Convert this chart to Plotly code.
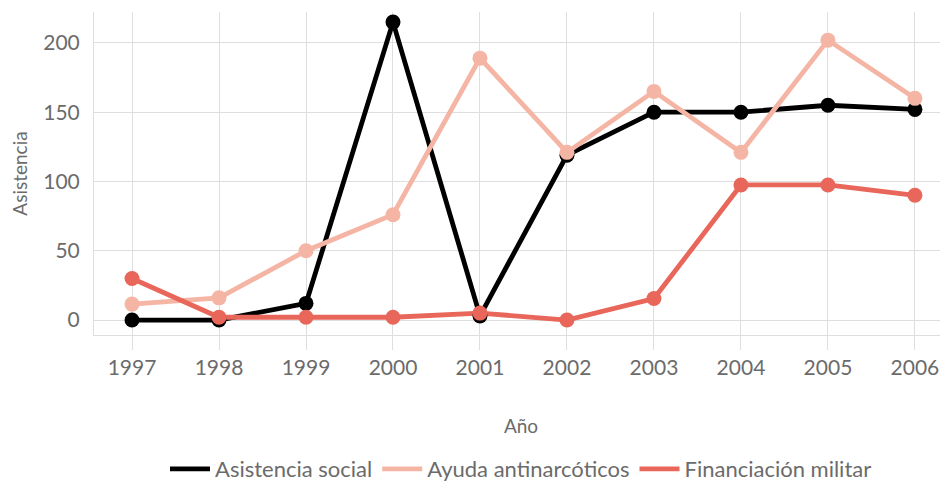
import plotly.graph_objects as go

years = [1997, 1998, 1999, 2000, 2001, 2002, 2003, 2004, 2005, 2006]
social = [0, 0, 12, 215, 3, 119, 150, 150, 155, 152]
antinarc = [11.5, 16, 50, 76, 189, 121, 165, 121, 202, 160]
militar = [30, 2, 2, 2, 5, 0, 15.5, 97.5, 97.5, 90]

names = ['Asistencia social', 'Ayuda antinarcóticos', 'Financiación militar']
colors = ['#000000', '#f5b5a5', '#e8665a']
series = [social, antinarc, militar]

GRID = '#dedede'
TXT = '#6b6b6b'
FONT = 'Lato'

fig = go.Figure()

# lines (shown in legend as plain strokes)
for name, col, vals in zip(names, colors, series):
    fig.add_trace(go.Scatter(x=years, y=vals, mode='lines', name=name,
                             line=dict(color=col, width=4.8)))

# markers on top, kept out of the legend
for name, col, vals in zip(names, colors, series):
    fig.add_trace(go.Scatter(x=years, y=vals, mode='markers', name=name,
                             marker=dict(color=col, size=15),
                             showlegend=False))

# page body has an 8px margin, so offset everything by that
fig.update_layout(
    width=940, height=482,
    margin=dict(l=86, r=0, t=4, b=154),
    plot_bgcolor='white', paper_bgcolor='white',
    font=dict(family=FONT, color=TXT, size=21),
    legend=dict(orientation='h', x=0.5, xanchor='center', y=-0.35, yanchor='top',
                font=dict(size=22, color=TXT), itemwidth=40, tracegroupgap=0),
)

fig.update_xaxes(
    range=[1996.563, 2006.38],
    tickvals=years, ticktext=[str(y) for y in years],
    showgrid=True, gridcolor=GRID, gridwidth=1,
    showline=True, linecolor=GRID, linewidth=1,
    ticks='outside', ticklen=14, tickcolor=GRID,
    tickfont=dict(size=21, color=TXT),
    title=dict(text='Año', font=dict(size=19, color=TXT), standoff=41),
    zeroline=False,
)

fig.update_yaxes(
    range=[-10.8, 222.3],
    tickvals=[0, 50, 100, 150, 200],
    showgrid=True, gridcolor=GRID, gridwidth=1,
    showline=True, linecolor=GRID, linewidth=1,
    ticks='outside', ticklen=9, tickcolor='rgba(0,0,0,0)',
    tickfont=dict(size=21, color=TXT),
    title=dict(text='Asistencia', font=dict(size=19, color=TXT), standoff=14),
    zeroline=False,
)

fig.write_html("out.html")
